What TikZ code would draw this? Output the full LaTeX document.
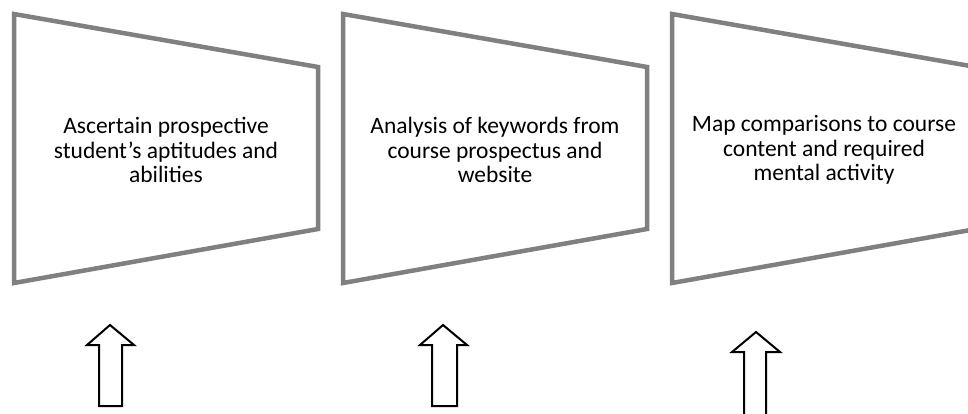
\documentclass[tikz,border=0pt]{standalone}
\usepackage{fontspec}
\setmainfont{Carlito}
\begin{document}
\begin{tikzpicture}[x=1pt,y=-1pt,
  frame/.style={draw=black!50,line width=4.5pt,line join=miter},
  label/.style={align=center,font=\fontsize{23.5}{24.5}\selectfont,text=black,inner sep=0pt},
  uparrow/.style={draw=black,line width=2pt,fill=white,line join=miter}]
\useasboundingbox (0,0) rectangle (968,413);
\clip (0,0) rectangle (968,413);
% boxes
\draw[frame] (14,14) -- (318,67) -- (318,229) -- (14,283) -- cycle;
\draw[frame] (343,14) -- (647,67) -- (647,229) -- (343,283) -- cycle;
\draw[frame] (672,14) -- (976,67) -- (976,229) -- (672,283) -- cycle;
\node[label] (t1) at (166,150) {Ascertain prospective\\student’s aptitudes and\\abilities};
\node[label] (t2) at (495,150) {Analysis of keywords from\\course prospectus and\\website};
\node[label] (t3) at (824,150) {Map comparisons to course\\content and required\\mental activity};
% arrows
\draw[uparrow] (110,325) -- (134,345) -- (122,345) -- (122,406) -- (99,406) -- (99,345) -- (87,345) -- cycle;
\draw[uparrow] (443,325) -- (467,345) -- (457,345) -- (457,406) -- (432,406) -- (432,345) -- (420,345) -- cycle;
\draw[uparrow] (756,332) -- (780,352) -- (766,352) -- (766,415) -- (744,415) -- (744,352) -- (732,352) -- cycle;
\end{tikzpicture}
\end{document}
